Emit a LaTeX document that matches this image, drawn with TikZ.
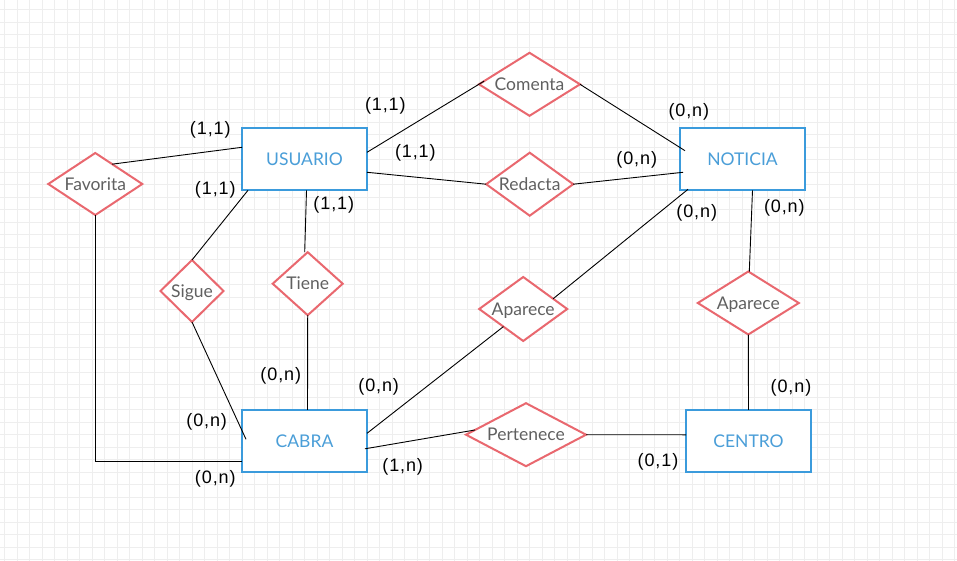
\documentclass[tikz,border=0pt]{standalone}
\usepackage{fontspec}
\setmainfont{Lato}
\newfontfamily\cardfont[LetterSpace=5]{Liberation Sans}
\usetikzlibrary{shapes.geometric,calc}
\definecolor{entblue}{RGB}{59,155,220}
\definecolor{enttext}{RGB}{74,158,216}
\definecolor{relred}{RGB}{233,104,111}
\definecolor{reltext}{RGB}{96,96,96}
\definecolor{gridc}{RGB}{238,238,238}
\begin{document}
\begin{tikzpicture}[x=1pt,y=-1pt,
  entity/.style={draw=entblue, fill=white, line width=2pt, minimum width=125pt, minimum height=62pt,
    inner sep=0pt, outer sep=0pt, text=enttext, font=\fontsize{17.5}{20}\selectfont,
    text height=12.5pt, text depth=0pt},
  rel/.style n args={3}{diamond, draw=relred, fill=white, line width=2pt, inner sep=0pt, outer sep=0pt,
    minimum width=#1, minimum height=#2,
    label={[text=reltext, font=\fontsize{17.5}{20}\selectfont, inner sep=0pt,
      text height=12.5pt, text depth=0pt]center:#3}},
  card/.style={font=\cardfont\fontsize{18}{20}\selectfont, text=black, inner sep=0pt},
  conn/.style={black, line width=0.9pt}]
% background and grid
\fill[white] (0,0) rectangle (957,561);
\useasboundingbox (0,0) rectangle (957,561);
\foreach \gx in {4.7,17.2,...,957} \draw[gridc, line width=0.8pt] (\gx,0) -- (\gx,561);
\foreach \gy in {9.5,22,...,561} \draw[gridc, line width=0.8pt] (0,\gy) -- (957,\gy);

% entities
\node[entity] (usuario) at (304.5,159.3) {USUARIO};
\node[entity] (noticia) at (742.5,159.3) {NOTICIA};
\node[entity] (cabra) at (304.5,440.8) {CABRA};
\node[entity] (centro) at (748.5,440.8) {CENTRO};

% relationships
\node[rel={94pt}{62pt}{Favorita}] (fav) at (95.3,184) {};
\node[rel={63pt}{62pt}{Sigue}] (sigue) at (192,291) {};
\node[rel={70pt}{63pt}{Tiene}] (tiene) at (307.7,283.7) {};
\node[rel={101pt}{63pt}{Comenta}] (comenta) at (529.5,84.3) {};
\node[rel={87pt}{63pt}{Redacta}] (redacta) at (529.7,184.2) {};
\node[rel={88pt}{64pt}{Aparece}] (ap1) at (523.2,309) {};
\node[rel={101pt}{63pt}{Aparece}] (ap2) at (748.3,303) {};
\node[rel={120pt}{63pt}{Pertenece}] (pert) at (526,434.7) {};

% connectors
\draw[conn] ($(fav.north)!0.36!(fav.east)$) -- ($(usuario.west)+(0,-12)$);
\draw[conn] (fav.south) |- ($(cabra.west)+(0,21)$);
\draw[conn] (sigue.north) -- ($(usuario.south west)+(6,0)$);
\draw[conn] (sigue.south) -- ($(cabra.west)+(4,-1.5)$);
\draw[conn] ($(usuario.south)+(2,0)$) -- ($(tiene.north)+(-3,0)$);
\draw[conn] (tiene.south) -- ($(cabra.north)+(3,0)$);
\draw[conn] ($(usuario.east)+(0,-7)$) -- ($(comenta.west)!0.1!(comenta.north)$);
\draw[conn] (comenta.east) -- ($(noticia.west)+(5,-8.6)$);
\draw[conn] ($(usuario.east)+(0,13)$) -- (redacta.west);
\draw[conn] (redacta.east) -- ($(noticia.west)+(3,13)$);
\draw[conn] ($(noticia.south west)+(8,-1)$) -- ($(ap1.north)!0.68!(ap1.east)$);
\draw[conn] ($(ap1.west)!0.55!(ap1.south)$) -- ($(cabra.east)+(0,-7.5)$);
\draw[conn] ($(noticia.south)+(10,0)$) -- ($(ap2.north)+(1,0)$);
\draw[conn] (ap2.south) -- (centro.north);
\draw[conn] ($(cabra.east)+(-2,8)$) -- ($(pert.west)!0.15!(pert.north)$);
\draw[conn] (pert.east) -- ($(centro.west)+(0,-6)$);

% cardinalities
\node[card] (c1) at (385.3,105.5) {(1,1)};
\node[card] (c2) at (210.3,130) {(1,1)};
\node[card] (c3) at (415.3,153) {(1,1)};
\node[card] (c4) at (215.3,190) {(1,1)};
\node[card] (c5) at (333.8,205) {(1,1)};
\node[card] (c6) at (688.8,111.5) {(0,n)};
\node[card] (c7) at (636.7,160) {(0,n)};
\node[card] (c8) at (696.7,213) {(0,n)};
\node[card] (c9) at (784.3,208) {(0,n)};
\node[card] (c10) at (280.8,376) {(0,n)};
\node[card] (c11) at (378.7,386.5) {(0,n)};
\node[card] (c12) at (206.7,422) {(0,n)};
\node[card] (c13) at (215.3,479) {(0,n)};
\node[card] (c14) at (402.7,467) {(1,n)};
\node[card] (c15) at (791,388) {(0,n)};
\node[card] (c16) at (658,462) {(0,1)};
\end{tikzpicture}
\end{document}
